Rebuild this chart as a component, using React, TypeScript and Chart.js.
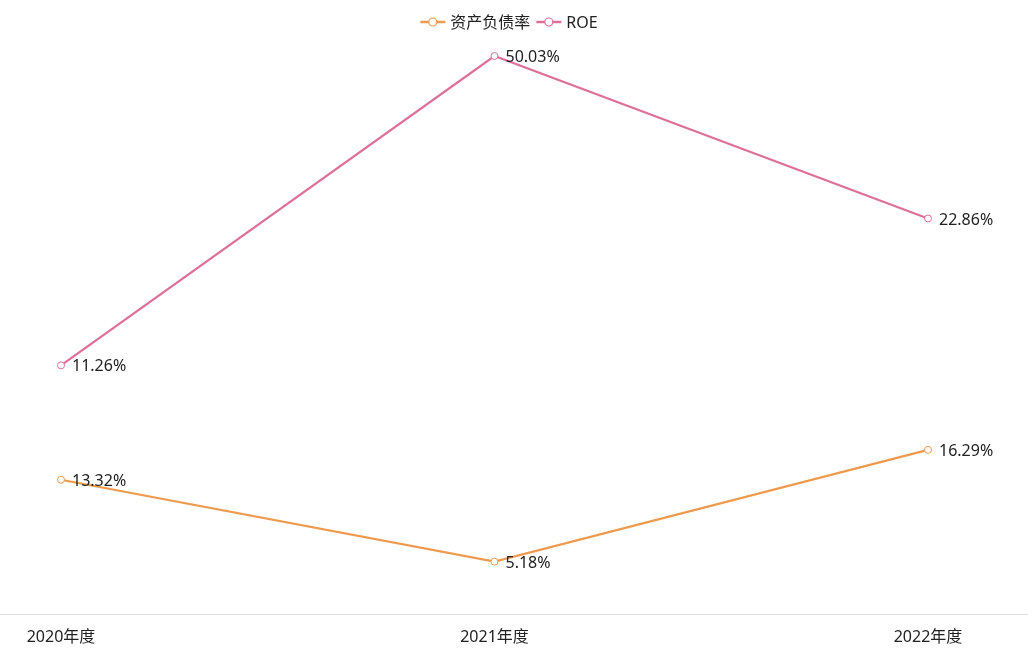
import React, { useEffect, useRef } from "react";
import { Chart, registerables } from "chart.js";

Chart.register(...registerables);

const categories = ["2020年度", "2021年度", "2022年度"];
const debtRatio = [13.32, 5.18, 16.29];
const roe = [11.26, 50.03, 22.86];
const seriesNames = ["资产负债率", "ROE"];
const seriesColors = ["#EE9A4E", "#DD7099"];

const FONT = '"Noto Sans", "Noto Sans CJK SC", sans-serif';

const labelPlugin = {
  id: "valueLabels",
  afterDatasetsDraw(chart: any) {
    const ctx = chart.ctx;
    ctx.save();
    ctx.font = `16px ${FONT}`;
    ctx.fillStyle = "#222";
    ctx.textAlign = "left";
    ctx.textBaseline = "middle";
    chart.data.datasets.forEach((ds: any, i: number) => {
      const meta = chart.getDatasetMeta(i);
      meta.data.forEach((pt: any, j: number) => {
        ctx.fillText(ds.data[j].toFixed(2) + "%", pt.x + 11, pt.y + 1.5);
      });
    });
    ctx.restore();
  },
};

const axisLinePlugin = {
  id: "axisLine",
  beforeDatasetsDraw(chart: any) {
    const ctx = chart.ctx;
    const y = Math.round(chart.chartArea.bottom) + 0.5;
    ctx.save();
    ctx.strokeStyle = "#DDDDDD";
    ctx.lineWidth = 1;
    ctx.beginPath();
    ctx.moveTo(0, y);
    ctx.lineTo(chart.width, y);
    ctx.stroke();
    ctx.restore();
  },
};

const legendPlugin = {
  id: "customLegend",
  afterDraw(chart: any) {
    const ctx = chart.ctx;
    ctx.save();
    ctx.font = `16px ${FONT}`;
    ctx.textBaseline = "middle";
    ctx.textAlign = "left";
    const iconW = 25;
    const gapIconText = 5;
    const gapItems = 6;
    const widths = seriesNames.map((n) => ctx.measureText(n).width);
    let total = 0;
    widths.forEach((w, i) => {
      total += iconW + gapIconText + w + (i < widths.length - 1 ? gapItems : 0);
    });
    let x = 509 - total / 2;
    const y = 22;
    seriesNames.forEach((n, i) => {
      const c = seriesColors[i];
      ctx.strokeStyle = c;
      ctx.lineWidth = 2.5;
      ctx.beginPath();
      ctx.moveTo(x, y);
      ctx.lineTo(x + iconW, y);
      ctx.stroke();
      ctx.beginPath();
      ctx.arc(x + iconW / 2, y, 4, 0, Math.PI * 2);
      ctx.fillStyle = "#fff";
      ctx.fill();
      ctx.lineWidth = 1.2;
      ctx.stroke();
      ctx.fillStyle = "#222";
      ctx.fillText(n, x + iconW + gapIconText, y + 1);
      x += iconW + gapIconText + widths[i] + gapItems;
    });
    ctx.restore();
  },
};

export default function App() {
  const ref = useRef<HTMLCanvasElement>(null);
  useEffect(() => {
    if (!ref.current) return;
    const chart = new Chart(ref.current, {
      type: "line",
      data: {
        labels: categories,
        datasets: [
          {
            label: seriesNames[0],
            data: debtRatio,
            borderColor: seriesColors[0],
            backgroundColor: "#fff",
            pointBackgroundColor: "#fff",
            pointBorderColor: seriesColors[0],
            pointBorderWidth: 1,
            pointRadius: 3.5,
            borderWidth: 2.2,
            yAxisID: "y",
            clip: false as any,
          },
          {
            label: seriesNames[1],
            data: roe,
            borderColor: seriesColors[1],
            backgroundColor: "#fff",
            pointBackgroundColor: "#fff",
            pointBorderColor: seriesColors[1],
            pointBorderWidth: 1,
            pointRadius: 3.5,
            borderWidth: 2.2,
            yAxisID: "y1",
            clip: false as any,
          },
        ],
      },
      options: {
        animation: false,
        responsive: true,
        maintainAspectRatio: false,
        layout: { padding: { left: 61, right: 100, top: 40, bottom: 13 } },
        plugins: {
          legend: { display: false },
          tooltip: { enabled: false },
        },
        scales: {
          x: {
            offset: false,
            grid: { display: false },
            border: { display: false },
            ticks: {
              padding: 6,
              color: "#222",
              font: { size: 16, family: FONT },
              maxRotation: 0,
              autoSkip: false,
            },
          },
          y: {
            display: false,
            type: "linear",
            min: 0,
            max: 57,
          },
          y1: {
            display: false,
            type: "logarithmic",
            min: 3.4,
            max: 54.04,
            bounds: "data",
          },
        },
      },
      plugins: [axisLinePlugin, labelPlugin, legendPlugin],
    });
    return () => chart.destroy();
  }, []);
  return (
    <div style={{ position: "fixed", left: 0, top: 0, width: 1028, height: 666, background: "#fff" }}>
      <canvas ref={ref} />
    </div>
  );
}
